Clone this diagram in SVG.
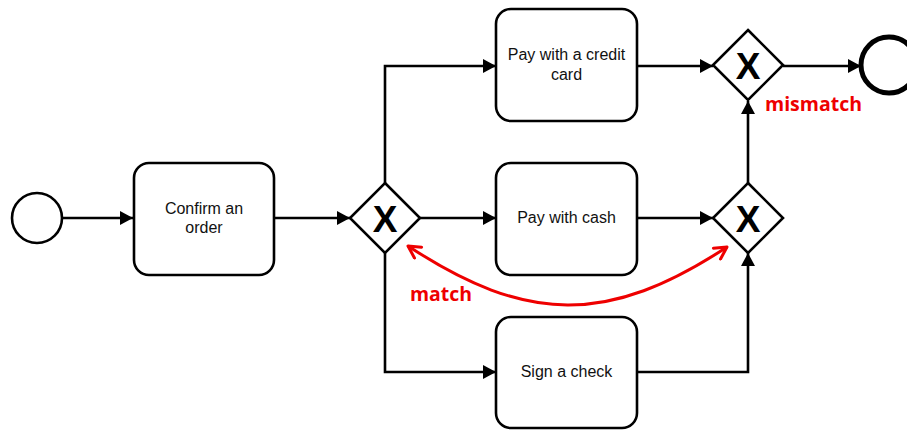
<svg xmlns="http://www.w3.org/2000/svg" width="907" height="430" viewBox="0 0 907 430">
  <defs>
    <marker id="arrow" viewBox="0 0 13 14" refX="13" refY="7" markerWidth="13" markerHeight="14" markerUnits="userSpaceOnUse" orient="auto">
      <path d="M0,0 L13,7 L0,14 Z" fill="#000"/>
    </marker>
    <marker id="open" viewBox="0 0 16 16" refX="14" refY="8" markerWidth="16" markerHeight="16" markerUnits="userSpaceOnUse" orient="auto-start-reverse">
      <path d="M2,1.5 L14,8 L2,14.5" fill="none" stroke="#e00" stroke-width="3" stroke-linecap="round" stroke-linejoin="round"/>
    </marker>
    <style>
      .task { fill: #fff; stroke: #000; stroke-width: 2.6; }
      .gw { fill: #fff; stroke: #000; stroke-width: 2.6; stroke-linejoin: miter; }
      .flow { fill: none; stroke: #000; stroke-width: 2.6; marker-end: url(#arrow); }
      .lbl { font-family: "Liberation Sans", Arial, sans-serif; font-size: 16px; fill: #111; text-anchor: middle; }
      .x { font-family: "Liberation Sans", Arial, sans-serif; font-size: 37px; font-weight: bold; fill: #000; text-anchor: middle; }
      .note { font-family: "Open Sans", "Liberation Sans", sans-serif; font-size: 20px; font-weight: bold; fill: #e00; }
    </style>
  </defs>

  <!-- sequence flows -->
  <g id="connectors">
    <path class="flow" d="M63,218 L133,218"/>
    <path class="flow" d="M274,218 L350,218"/>
    <path class="flow" d="M385,183 L385,66 L496,66"/>
    <path class="flow" d="M420,218 L496,218"/>
    <path class="flow" d="M385,253 L385,372 L496,372"/>
    <path class="flow" d="M637,66 L713,66"/>
    <path class="flow" d="M637,218 L713,218"/>
    <path class="flow" d="M637,372 L748,372 L748,253"/>
    <path class="flow" d="M748,183 L748,101"/>
    <path class="flow" d="M783,66 L861,66"/>
    <!-- match relation between the split and the join -->
    <path d="M408,246 C527,324 608,325 727,247" fill="none" stroke="#e00" stroke-width="3" marker-start="url(#open)" marker-end="url(#open)"/>
  </g>

  <g id="start">
    <circle cx="37" cy="218" r="25" fill="#fff" stroke="#000" stroke-width="2.6"/>
  </g>

  <g id="confirm">
    <rect class="task" x="134" y="163" width="140" height="112" rx="15"/>
    <text class="lbl" x="204" y="214">Confirm an</text>
    <text class="lbl" x="204" y="233">order</text>
  </g>

  <g id="split">
    <polygon class="gw" points="385,183 420,218 385,253 350,218"/>
    <text class="x" x="385" y="232">X</text>
  </g>

  <g id="credit">
    <rect class="task" x="496" y="9" width="141" height="112" rx="15"/>
    <text class="lbl" x="566.5" y="60">Pay with a credit</text>
    <text class="lbl" x="566.5" y="80">card</text>
  </g>

  <g id="cash">
    <rect class="task" x="496" y="163" width="141" height="112" rx="15"/>
    <text class="lbl" x="566.5" y="223">Pay with cash</text>
  </g>

  <g id="check">
    <rect class="task" x="496" y="317" width="141" height="111" rx="15"/>
    <text class="lbl" x="566.5" y="377">Sign a check</text>
  </g>

  <g id="join">
    <polygon class="gw" points="748,183 783,218 748,253 713,218"/>
    <text class="x" x="748" y="232">X</text>
  </g>

  <g id="merge">
    <polygon class="gw" points="748,30 783,65 748,100 713,65"/>
    <text class="x" x="748" y="79">X</text>
  </g>

  <g id="end">
    <circle cx="889" cy="65" r="28" fill="#fff" stroke="#000" stroke-width="5"/>
  </g>

  <text class="note" x="765" y="111" textLength="97" lengthAdjust="spacingAndGlyphs">mismatch</text>
  <text class="note" x="410" y="301" textLength="62" lengthAdjust="spacingAndGlyphs">match</text>
</svg>
